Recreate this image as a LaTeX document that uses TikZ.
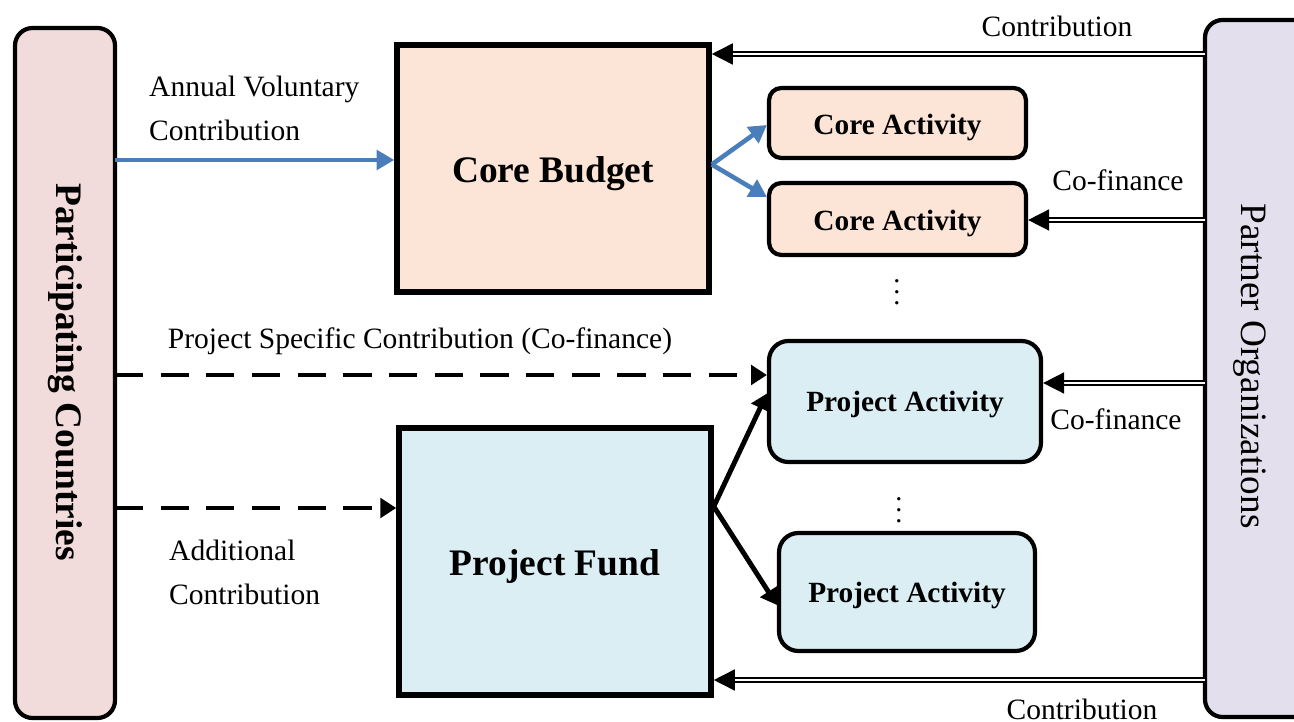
\documentclass[tikz,border=0pt]{standalone}
\usepackage{fontspec}
\setmainfont{Liberation Serif}
\usetikzlibrary{arrows.meta,calc}
\definecolor{countrypink}{HTML}{F2DCDB}
\definecolor{partnerlilac}{HTML}{E4DFEC}
\definecolor{corepeach}{HTML}{FCE4D6}
\definecolor{projblue}{HTML}{DBEEF4}
\definecolor{flowblue}{HTML}{4A7EBB}

\begin{document}
\begin{tikzpicture}[x=0.02cm,y=-0.02cm,
		sidebox/.style={draw, line width=2.4pt, rounded corners=10pt},
		fundbox/.style={font=\fontsize{21.3}{25}\selectfont\bfseries, draw, line width=3.2pt, minimum width=6.24cm, text height=21.5pt, text depth=5pt},
		coreact/.style={font=\fontsize{16.7}{20}\selectfont\bfseries, draw, fill=corepeach, line width=2.4pt, rounded corners=7pt, minimum width=5.14cm, text height=17pt, text depth=4pt},
		projact/.style={font=\fontsize{16.7}{20}\selectfont\bfseries, draw, fill=projblue, line width=2.4pt, rounded corners=11pt, text height=15.5pt, text depth=4pt},
		lbl/.style={font=\fontsize{16.8}{25}\selectfont},
		dots/.style={font=\fontsize{16}{6.2}\selectfont, align=center, inner sep=0pt},
		bluearr/.style={draw=flowblue, line width=2.6pt, -{Triangle[length=10pt,width=11pt]}},
		blackarr/.style={line width=2.8pt, -{Triangle[length=9pt,width=11pt]}},
		dasharr/.style={blackarr, dash pattern=on 16pt off 10pt},
		dblarr/.style={double, double distance=1.1pt, line width=0.9pt, -{Triangle[length=12pt,width=12pt]}}]
		\useasboundingbox (0,0) rectangle (1294,722);

		% side boxes
		\draw[sidebox, fill=countrypink] (15,28) rectangle (115,718);
		\coordinate (pc) at (115,373);
		\node[rotate=-90, font=\fontsize{21.3}{25}\selectfont\bfseries] at (65,372) {Participating Countries};
		\draw[sidebox, fill=partnerlilac] (1205,20) rectangle (1320,717);
		\coordinate (po) at (1205,370);
		\node[rotate=-90, font=\fontsize{21.2}{25}\selectfont] at (1250,366) {Partner Organizations};

		% budgets
		\node[fundbox, fill=corepeach, minimum height=4.94cm] (cb) at (553,168.5) {Core Budget};
		\node[fundbox, fill=projblue, minimum height=5.34cm] (pf) at (555,561.5) {Project Fund};

		% activities
		\node[coreact, minimum height=1.4cm] (ca1) at (897.5,123) {Core Activity};
		\node[coreact, minimum height=1.44cm] (ca2) at (897.5,219) {Core Activity};
		\node[projact, minimum width=5.44cm, minimum height=2.42cm] (pa1) at (905,401.5) {Project Activity};
		\node[projact, minimum width=5.12cm, minimum height=2.36cm] (pa2) at (907,592) {Project Activity};
		\node[dots] at (897,292) {.\\.\\.};
		\node[dots] at (899,510) {.\\.\\.};

		% participating countries
		\draw[bluearr] (pc |- 0,160) -- (cb.west |- 0,160);
		\node[lbl, align=left, anchor=north west] at (143,70) {Annual Voluntary\\Contribution};
		\draw[bluearr] ($(cb.east)+(0,-4)$) -- ($(ca1.west)+(0,2)$);
		\draw[bluearr] ($(cb.east)+(0,-4)$) -- ($(ca2.west)+(0,-22)$);
		\draw[dasharr] (pc |- 0,375) -- (pa1.west |- 0,375);
		\node[lbl] at (420,341) {Project Specific Contribution (Co-finance)};
		\draw[dasharr] (pc |- 0,508) -- (pf.west |- 0,508);
		\node[lbl, align=left, anchor=north west] at (163,534) {Additional\\Contribution};
		\draw[blackarr] ($(pf.east)+(0,-55)$) -- ($(pa1.west)+(0,-8)$);
		\draw[blackarr] ($(pf.east)+(0,-55)$) -- ($(pa2.west)+(0,13)$);

		% partner organizations
		\draw[dblarr] (po |- 0,54) -- (cb.east |- 0,54);
		\node[lbl] at (1057,26) {Contribution};
		\draw[dblarr] (po |- 0,220) -- (ca2.east |- 0,220);
		\node[lbl] at (1118,180) {Co-finance};
		\draw[dblarr] (po |- 0,383) -- (pa1.east |- 0,383);
		\node[lbl] at (1116,419) {Co-finance};
		\draw[dblarr] (po |- 0,680) -- (pf.east |- 0,680);
		\node[lbl] at (1082,709) {Contribution};
	\end{tikzpicture}
\end{document}
